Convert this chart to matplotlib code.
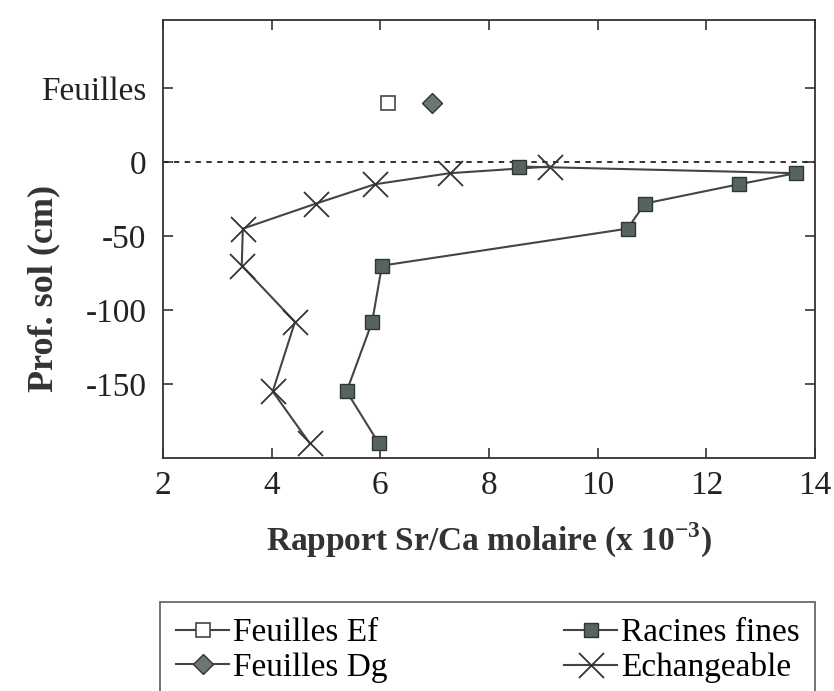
import matplotlib
matplotlib.use('Agg')
import matplotlib.pyplot as plt

# Sr/Ca (x 1e-3) versus soil depth (cm)
depths = [-3, -7.5, -15, -28, -45, -70, -108, -155, -190]
racines = [8.55, 13.65, 12.6, 10.87, 10.55, 6.03, 5.85, 5.38, 5.97]
echangeable = [9.12, 7.28, 5.9, 4.82, 3.47, 3.45, 4.43, 4.02, 4.7]

# leaves, drawn above the soil surface
feuilles_y = 40
feuilles_ef = 6.15
feuilles_dg = 6.95

yticks = [50, 0, -50, -100, -150]
ytick_labels = ['Feuilles', '0', '-50', '-100', '-150']
xticks = [2, 4, 6, 8, 10, 12, 14]

plt.rcParams['font.family'] = ['Liberation Serif', 'DejaVu Serif']
plt.rcParams['mathtext.fontset'] = 'custom'
plt.rcParams['mathtext.rm'] = 'Liberation Serif'
plt.rcParams['mathtext.bf'] = 'Liberation Serif:bold'

fig = plt.figure(figsize=(8.34, 6.91), dpi=100)
ax = fig.add_axes([0.1954, 0.3372, 0.7818, 0.6338])

line_col = '#444444'
fill_col = '#56635f'

ax.axhline(0, color='#222222', linestyle=(0, (3, 3)), linewidth=1.3, zorder=1)

ax.plot([feuilles_ef], [feuilles_y], linestyle='-', color=line_col, marker='s',
        markersize=10, markerfacecolor='white', markeredgecolor='#444444',
        markeredgewidth=1.2, label='Feuilles Ef')
ax.plot([feuilles_dg], [feuilles_y], linestyle='-', color=line_col, marker='D',
        markersize=10, markerfacecolor='#6b7773', markeredgecolor='#333333',
        markeredgewidth=1.0, label='Feuilles Dg')
ax.plot(racines, depths, linestyle='-', color=line_col, linewidth=1.5, marker='s',
        markersize=10, markerfacecolor=fill_col, markeredgecolor='#2e3633',
        markeredgewidth=1.0, label='Racines fines', zorder=3)
ax.plot(echangeable, depths, linestyle='-', color=line_col, linewidth=1.5, marker='x',
        markersize=18, markeredgewidth=1.3, markeredgecolor='#333333',
        label='Echangeable', zorder=2)

ax.set_xlim(2, 14)
ax.set_ylim(-200, 96)
ax.set_xticks(xticks)
ax.set_xticklabels([str(v) for v in xticks])
ax.set_yticks(yticks)
ax.set_yticklabels(ytick_labels)
ax.tick_params(direction='in', length=7, width=1.1, top=True, right=True,
               labelsize=24, colors='#222222')
ax.tick_params(axis='x', pad=9)
ax.tick_params(axis='y', pad=12)

for s in ax.spines.values():
    s.set_linewidth(1.3)
    s.set_color('#333333')

ax.set_xlabel(r'Rapport Sr/Ca molaire (x 10$^{\mathbf{-3}}$)', fontsize=24,
              fontweight='bold', color='#333333', labelpad=14)
ax.set_ylabel('Prof. sol (cm)', fontsize=26, fontweight='bold', color='#333333')
ax.yaxis.set_label_coords(-0.158, 0.388)

fig.legend(loc='upper left', bbox_to_anchor=(0.1918, 0.0, 0.786, 0.1288), mode='expand',
           ncol=2, fontsize=24, frameon=True, fancybox=False, edgecolor='#444444',
           handlelength=1.6, handletextpad=0.1, labelspacing=0.12, borderpad=0.48,
           borderaxespad=0.0)
leg = fig.legends[0]
leg.get_frame().set_linewidth(1.3)

fig.savefig('out.png', dpi=100)
